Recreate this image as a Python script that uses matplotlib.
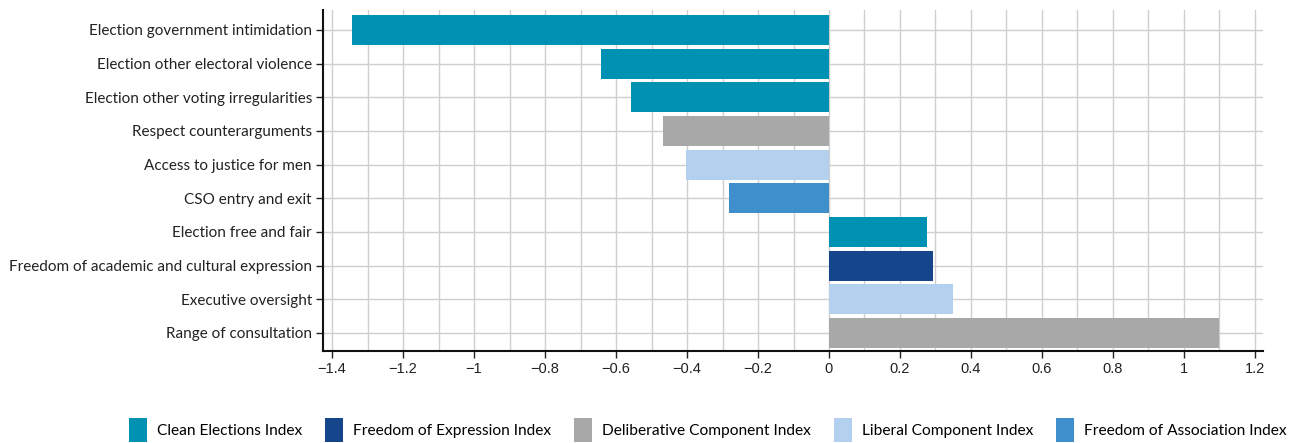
import matplotlib
matplotlib.use("Agg")
import matplotlib.pyplot as plt
from matplotlib.patches import Patch
import numpy as np

categories = [
    "Election government intimidation",
    "Election other electoral violence",
    "Election other voting irregularities",
    "Respect counterarguments",
    "Access to justice for men",
    "CSO entry and exit",
    "Election free and fair",
    "Freedom of academic and cultural expression",
    "Executive oversight",
    "Range of consultation",
]
values = [-1.345, -0.643, -0.558, -0.468, -0.403, -0.282, 0.276, 0.293, 0.350, 1.100]
groups = [
    "Clean Elections Index", "Clean Elections Index", "Clean Elections Index",
    "Deliberative Component Index", "Liberal Component Index", "Freedom of Association Index",
    "Clean Elections Index", "Freedom of Expression Index", "Liberal Component Index",
    "Deliberative Component Index",
]
legend_order = ["Clean Elections Index", "Freedom of Expression Index",
                "Deliberative Component Index", "Liberal Component Index",
                "Freedom of Association Index"]
colors = {
    "Clean Elections Index": "#0091b3",
    "Freedom of Expression Index": "#15458a",
    "Deliberative Component Index": "#a7a8a7",
    "Liberal Component Index": "#b3d0ee",
    "Freedom of Association Index": "#3f8fcc",
}
xticks = [-1.4, -1.2, -1, -0.8, -0.6, -0.4, -0.2, 0, 0.2, 0.4, 0.6, 0.8, 1, 1.2]

label_font = ["Lato", "DejaVu Sans"]
tick_font = ["Liberation Sans", "DejaVu Sans"]

fig = plt.figure(figsize=(12.96, 4.43), dpi=100)
ax = fig.add_axes([323/1296, 1-351/443, (1263-323)/1296, (351-10)/443])

y = np.arange(len(categories))
ax.barh(y, values, height=0.9, color=[colors[g] for g in groups], zorder=3)

ax.set_xlim(-1.4 - 9/354.6, 1.2 + 8/354.6)
ax.set_ylim(len(categories) - 1 + 0.535, -0.594)

ax.set_xticks(xticks)
ax.set_xticklabels([("\u2212" if t < 0 else "") + ("%g" % abs(t)) for t in xticks],
                   fontfamily=tick_font, fontsize=10.5)
ax.set_xticks(np.arange(-1.4, 1.21, 0.1), minor=True)
ax.set_yticks(y)
ax.set_yticklabels(categories, fontfamily=label_font, fontsize=11)
ax.tick_params(axis="y", length=5, width=1, pad=3, colors="#222222", labelcolor="#222222")
ax.tick_params(axis="x", which="major", length=5, width=1, colors="#222222", labelcolor="#222222", pad=3)
ax.tick_params(axis="x", which="minor", length=0)

ax.grid(axis="x", which="both", color="#cfcfcf", linewidth=1, zorder=0)
ax.grid(axis="y", which="major", color="#cfcfcf", linewidth=1, zorder=0)
for s in ["top", "right"]:
    ax.spines[s].set_visible(False)
for s in ["left", "bottom"]:
    ax.spines[s].set_linewidth(1.5)
    ax.spines[s].set_color("#111111")

handles = [Patch(facecolor=colors[g], label=g) for g in legend_order]
fig.legend(handles=handles, loc="center", bbox_to_anchor=(708/1296, 1-430/443), ncol=5,
           frameon=False, prop={"family": label_font, "size": 11.2},
           handlelength=1.15, handleheight=1.9, handletextpad=0.65, columnspacing=1.46)

fig.savefig("out.png", dpi=100)
